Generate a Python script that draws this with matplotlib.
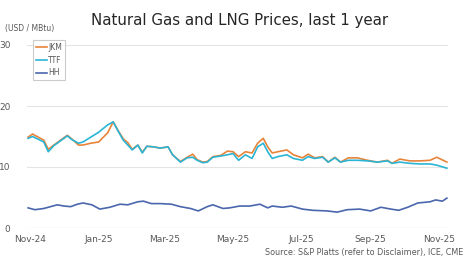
import matplotlib
matplotlib.use("Agg")
import matplotlib.pyplot as plt
import matplotlib.dates as mdates
import pandas as pd

title = "Natural Gas and LNG Prices, last 1 year"
unit_label = "(USD / MBtu)"
source = "Source: S&P Platts (refer to Disclaimer), ICE, CME"

lng_dates = ["2024-10-30", "2024-11-03", "2024-11-13", "2024-11-17", "2024-11-22", "2024-11-28",
             "2024-12-04", "2024-12-08", "2024-12-14", "2024-12-18", "2024-12-25", "2025-01-01",
             "2025-01-09", "2025-01-14", "2025-01-18", "2025-01-23", "2025-01-27", "2025-01-31",
             "2025-02-05", "2025-02-09", "2025-02-13", "2025-02-19", "2025-02-25", "2025-03-04",
             "2025-03-08", "2025-03-15", "2025-03-21", "2025-03-26", "2025-03-30", "2025-04-04",
             "2025-04-08", "2025-04-13", "2025-04-20", "2025-04-26", "2025-05-01", "2025-05-06",
             "2025-05-12", "2025-05-18", "2025-05-23", "2025-05-28", "2025-06-01", "2025-06-05",
             "2025-06-10", "2025-06-18", "2025-06-24", "2025-07-02", "2025-07-07", "2025-07-13",
             "2025-07-20", "2025-07-25", "2025-07-31", "2025-08-05", "2025-08-12", "2025-08-20",
             "2025-08-29", "2025-09-07", "2025-09-16", "2025-09-20", "2025-09-27", "2025-10-06",
             "2025-10-15", "2025-10-24", "2025-10-30", "2025-11-08"]
jkm = [14.9, 15.4, 14.4, 12.9, 13.6, 14.4,
       15.2, 14.6, 13.6, 13.6, 13.9, 14.1,
       15.6, 17.4, 16.1, 14.6, 14.0, 12.9,
       13.6, 12.4, 13.4, 13.3, 13.1, 13.3,
       12.0, 10.9, 11.6, 12.1, 11.2, 10.8,
       10.9, 11.7, 11.9, 12.6, 12.5, 11.7,
       12.5, 12.3, 13.9, 14.7, 13.3, 12.3,
       12.5, 12.8, 12.0, 11.5, 12.1, 11.5,
       11.7, 10.8, 11.6, 10.8, 11.5, 11.5,
       11.1, 10.8, 11.1, 10.6, 11.3, 11.0,
       11.0, 11.1, 11.6, 10.8]
ttf = [14.7, 15.0, 14.1, 12.5, 13.5, 14.3,
       15.1, 14.5, 13.9, 14.1, 14.9, 15.7,
       16.9, 17.4, 16.0, 14.4, 13.6, 12.8,
       13.6, 12.3, 13.4, 13.3, 13.1, 13.3,
       12.0, 10.8, 11.5, 11.6, 11.1, 10.7,
       10.8, 11.6, 11.8, 12.0, 12.2, 11.1,
       12.0, 11.4, 13.3, 13.9, 12.5, 11.4,
       11.7, 12.0, 11.4, 11.1, 11.7, 11.4,
       11.6, 10.8, 11.5, 10.8, 11.1, 11.1,
       11.0, 10.8, 11.0, 10.6, 10.8, 10.6,
       10.5, 10.5, 10.3, 9.8]

hh_dates = ["2024-10-30", "2024-11-05", "2024-11-13", "2024-11-19", "2024-11-25", "2024-12-01",
            "2024-12-07", "2024-12-13", "2024-12-18", "2024-12-26", "2025-01-02", "2025-01-11",
            "2025-01-20", "2025-01-27", "2025-02-05", "2025-02-10", "2025-02-17", "2025-02-25",
            "2025-03-07", "2025-03-15", "2025-03-24", "2025-03-31", "2025-04-08", "2025-04-13",
            "2025-04-22", "2025-04-28", "2025-05-07", "2025-05-16", "2025-05-25", "2025-06-01",
            "2025-06-05", "2025-06-14", "2025-06-22", "2025-07-02", "2025-07-11", "2025-07-24",
            "2025-08-02", "2025-08-11", "2025-08-22", "2025-09-01", "2025-09-10", "2025-09-19",
            "2025-09-26", "2025-10-04", "2025-10-13", "2025-10-24", "2025-10-29", "2025-11-04",
            "2025-11-08"]
hh = [3.3, 3.0, 3.2, 3.5, 3.8, 3.6,
      3.5, 3.9, 4.1, 3.8, 3.1, 3.4,
      3.9, 3.8, 4.3, 4.4, 4.0, 4.0,
      3.9, 3.5, 3.2, 2.8, 3.5, 3.8,
      3.2, 3.3, 3.6, 3.6, 3.9, 3.3,
      3.6, 3.4, 3.6, 3.1, 2.9, 2.8,
      2.6, 3.0, 3.1, 2.8, 3.4, 3.1,
      2.9, 3.4, 4.1, 4.3, 4.6, 4.4,
      4.9]

tick_dates = ["2024-11-01", "2025-01-01", "2025-03-01", "2025-05-01", "2025-07-01", "2025-09-01", "2025-11-01"]
tick_labels = ["Nov-24", "Jan-25", "Mar-25", "May-25", "Jul-25", "Sep-25", "Nov-25"]
y_ticks = [0, 10, 20, 30]

c_jkm = "#E8843A"
c_ttf = "#2BB5D5"
c_hh = "#4A66AC"
txt = "#595959"

fig = plt.figure(figsize=(4.74, 2.62), dpi=100)
ax = fig.add_axes([27/474, 1 - 228/262, (448 - 27)/474, (228 - 45)/262])

ax.plot(pd.to_datetime(lng_dates), jkm, color=c_jkm, lw=1.2, label="JKM", zorder=3)
ax.plot(pd.to_datetime(lng_dates), ttf, color=c_ttf, lw=1.2, label="TTF", zorder=4)
ax.plot(pd.to_datetime(hh_dates), hh, color=c_hh, lw=1.2, label="HH", zorder=3)

ax.set_xlim(pd.Timestamp("2024-10-29"), pd.Timestamp("2025-11-09"))
ax.set_ylim(0, 30)
ax.set_yticks(y_ticks)
ax.set_yticklabels([str(v) for v in y_ticks])
ax.set_xticks(pd.to_datetime(tick_dates))
ax.set_xticklabels(tick_labels)
ax.tick_params(axis="both", length=0, labelsize=6.5, colors=txt)
ax.tick_params(axis="y", pad=12)
ax.tick_params(axis="x", pad=5)
ax.grid(axis="y", color="#E4E4E4", lw=0.8)
for s in ax.spines.values():
    s.set_visible(False)
ax.axhline(0, color="#D9D9D9", lw=0.8)

leg = ax.legend(loc="upper left", bbox_to_anchor=(0.005, 1.05), fontsize=5.5, frameon=True,
                handlelength=1.5, handletextpad=0.1, borderpad=0.4, labelspacing=0.5,
                fancybox=False, edgecolor="#BFBFBF", labelcolor=txt)
leg.get_frame().set_linewidth(0.8)

fig.text(240/474, 1 - 20/262, title, ha="center", va="center", fontsize=10.8, color="#262626")
fig.text(5/474, 1 - 29/262, unit_label, ha="left", va="center", fontsize=5.5, color=txt)
fig.text(463/474, 1 - 253/262, source, ha="right", va="center", fontsize=5.8, color=txt)

fig.savefig("out.png", dpi=100, facecolor="white")
